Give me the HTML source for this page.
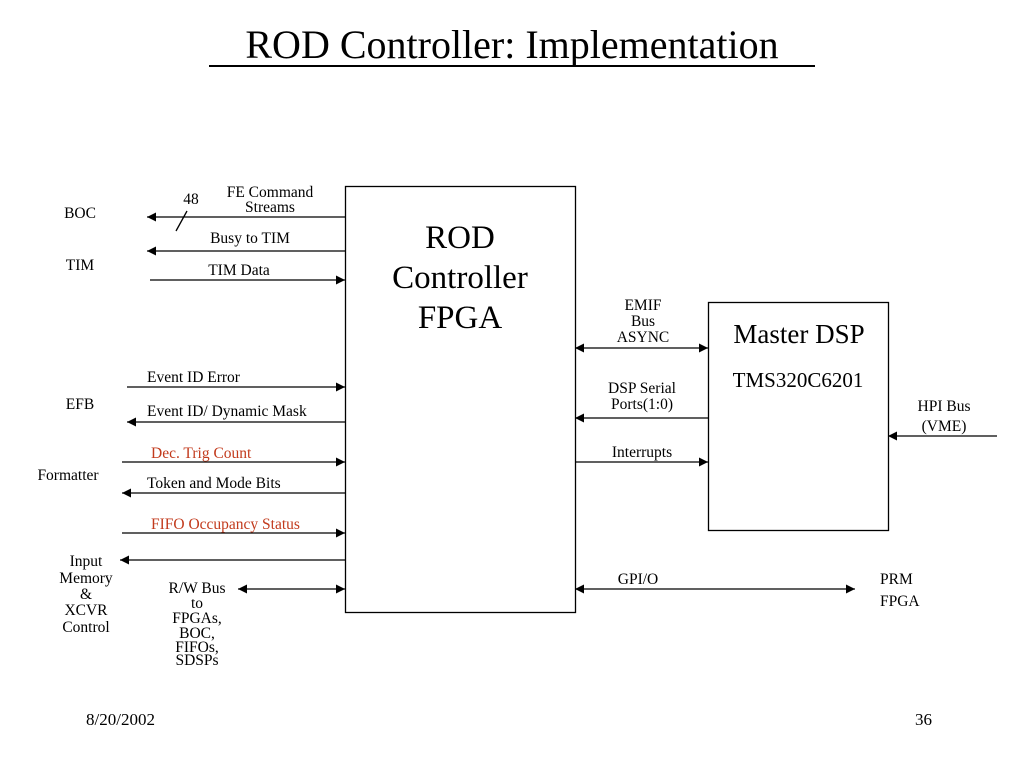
<!DOCTYPE html>
<html><head><meta charset="utf-8"><style>
html,body{margin:0;padding:0;background:#fff}
svg{display:block}
text{font-family:"Liberation Serif",serif;fill:#000}
</style></head><body>
<svg width="1024" height="768" viewBox="0 0 1024 768" xmlns="http://www.w3.org/2000/svg">
<defs>
<marker id="a" viewBox="0 0 10 10" refX="10" refY="5" markerWidth="9" markerHeight="9" markerUnits="userSpaceOnUse" orient="auto-start-reverse"><path d="M0,0 L10,5 L0,10 z" fill="#000"/></marker>
</defs>
<text x="512" y="58" font-size="40" text-anchor="middle">ROD Controller: Implementation</text>
<line x1="209" y1="66" x2="815" y2="66" stroke="#000" stroke-width="2"/>
<g stroke="#000" stroke-width="1.3" fill="none">
<rect x="345.5" y="186.5" width="230" height="426"/>
<rect x="708.5" y="302.5" width="180" height="228"/>
<line x1="345" y1="217" x2="147" y2="217" marker-end="url(#a)"/>
<line x1="176" y1="231" x2="187" y2="211"/>
<line x1="345" y1="251" x2="147" y2="251" marker-end="url(#a)"/>
<line x1="150" y1="280" x2="345" y2="280" marker-end="url(#a)"/>
<line x1="127" y1="387" x2="345" y2="387" marker-end="url(#a)"/>
<line x1="345" y1="422" x2="127" y2="422" marker-end="url(#a)"/>
<line x1="122" y1="462" x2="345" y2="462" marker-end="url(#a)"/>
<line x1="345" y1="493" x2="122" y2="493" marker-end="url(#a)"/>
<line x1="122" y1="533" x2="345" y2="533" marker-end="url(#a)"/>
<line x1="345" y1="560" x2="120" y2="560" marker-end="url(#a)"/>
<line x1="238" y1="589" x2="345" y2="589" marker-start="url(#a)" marker-end="url(#a)"/>
<line x1="575" y1="348" x2="708" y2="348" marker-start="url(#a)" marker-end="url(#a)"/>
<line x1="708" y1="418" x2="575" y2="418" marker-end="url(#a)"/>
<line x1="575" y1="462" x2="708" y2="462" marker-end="url(#a)"/>
<line x1="997" y1="436" x2="888" y2="436" marker-end="url(#a)"/>
<line x1="575" y1="589" x2="855" y2="589" marker-start="url(#a)" marker-end="url(#a)"/>
</g>
<g font-size="33" text-anchor="middle">
<text x="460" y="248">ROD</text><text x="460" y="288">Controller</text><text x="460" y="328">FPGA</text>
</g>
<text x="799" y="343" font-size="27" text-anchor="middle">Master DSP</text>
<text x="798" y="387" font-size="21" text-anchor="middle">TMS320C6201</text>
<g font-size="15.5" text-anchor="middle">
<text x="270" y="197">FE Command</text><text x="270" y="212">Streams</text>
<text x="191" y="204">48</text>
<text x="250" y="243">Busy to TIM</text>
<text x="239" y="275">TIM Data</text>
<text x="80" y="218">BOC</text><text x="80" y="270">TIM</text>
<text x="80" y="409">EFB</text><text x="68" y="480">Formatter</text>
<text x="86" y="566">Input</text><text x="86" y="583">Memory</text><text x="86" y="599">&amp;</text><text x="86" y="615">XCVR</text><text x="86" y="632">Control</text>
<text x="197" y="593">R/W Bus</text><text x="197" y="608">to</text><text x="197" y="623">FPGAs,</text><text x="197" y="638">BOC,</text><text x="197" y="652">FIFOs,</text><text x="197" y="665">SDSPs</text>
<text x="643" y="310">EMIF</text><text x="643" y="326">Bus</text><text x="643" y="342">ASYNC</text>
<text x="642" y="393">DSP Serial</text><text x="642" y="409">Ports(1:0)</text>
<text x="642" y="457">Interrupts</text>
<text x="944" y="411">HPI Bus</text><text x="944" y="431">(VME)</text>
<text x="638" y="584">GPI/O</text>
</g>
<g font-size="15.5">
<text x="147" y="382">Event ID Error</text>
<text x="147" y="416">Event ID/ Dynamic Mask</text>
<text x="151" y="458" style="fill:#c23a1c">Dec. Trig Count</text>
<text x="147" y="488">Token and Mode Bits</text>
<text x="151" y="529" style="fill:#c23a1c">FIFO Occupancy Status</text>
<text x="880" y="584">PRM</text><text x="880" y="606">FPGA</text>
</g>
<text x="86" y="725" font-size="17">8/20/2002</text>
<text x="915" y="725" font-size="17">36</text>
</svg>
</body></html>
